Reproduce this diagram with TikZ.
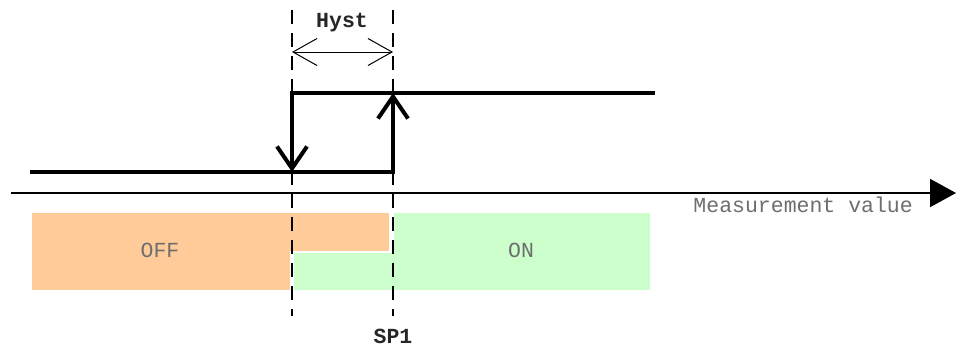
\documentclass[tikz,border=0pt]{standalone}
\usepackage{fontspec}
\setmonofont{Liberation Mono}
\usetikzlibrary{arrows.meta}
\definecolor{offc}{RGB}{255,204,153}
\definecolor{onc}{RGB}{204,255,204}
\definecolor{txtg}{RGB}{110,110,110}
\tikzset{
  lbl/.style={font=\ttfamily\fontsize{21.5}{21.5}\selectfont, text=txtg, inner sep=0pt},
  blbl/.style={font=\ttfamily\bfseries\fontsize{21.5}{21.5}\selectfont, text=black!85, inner sep=0pt},
  guide/.style={line width=1.5pt, dash pattern=on 14pt off 9pt},
  signal/.style={line width=4pt, -{Straight Barb[length=22pt,width=30pt,line width=4pt]}},
  axisline/.style={line width=2pt, -{Triangle[length=26pt,width=28pt]}},
  dim/.style={line width=1pt, {Straight Barb[length=24pt,width=27pt,line width=1pt]}-{Straight Barb[length=24pt,width=27pt,line width=1pt]}}
}
\begin{document}
\begin{tikzpicture}[x=1pt,y=-1pt]
\useasboundingbox (0,0) rectangle (957,349);
% state bars
\fill[offc] (32,213) rectangle (290,290);
\fill[offc] (290,213) rectangle (389,251);
\fill[onc] (294,253) rectangle (650,290);
\fill[onc] (394,213) rectangle (650,290);
\node[lbl] (off) at (160,250) {OFF};
\node[lbl] (on) at (521,250) {ON};
% guides
\coordinate (g1t) at (292,10);
\coordinate (g1b) at (292,316);
\coordinate (g2t) at (393,10);
\coordinate (g2b) at (393,316);
\draw[guide] (g1t) -- (g1b);
\draw[guide] (g2t) -- (g2b);
% axis
\coordinate (ax0) at (11,193);
\coordinate (ax1) at (956,193);
\draw[axisline] (ax0) -- (ax1);
\node[lbl, anchor=east] (mv) at (913,205) {Measurement value};
% hysteresis signal
\coordinate (lo0) at (30,172);
\coordinate (lo1) at (393,172);
\coordinate (hi1) at (393,93);
\coordinate (hi0) at (655,93);
\coordinate (hd) at (292,93);
\coordinate (ld) at (292,172);
\draw[signal] (lo0) -- (lo1) -- (hi1);
\draw[signal] (hi0) -- (hd) -- (ld);
% hyst dimension
\coordinate (h0) at (292,52);
\coordinate (h1) at (393,52);
\draw[dim] (h0) -- (h1);
\node[blbl] (hyst) at (342,23) {Hyst};
\node[blbl] (sp1) at (393,336) {SP1};
\end{tikzpicture}
\end{document}
